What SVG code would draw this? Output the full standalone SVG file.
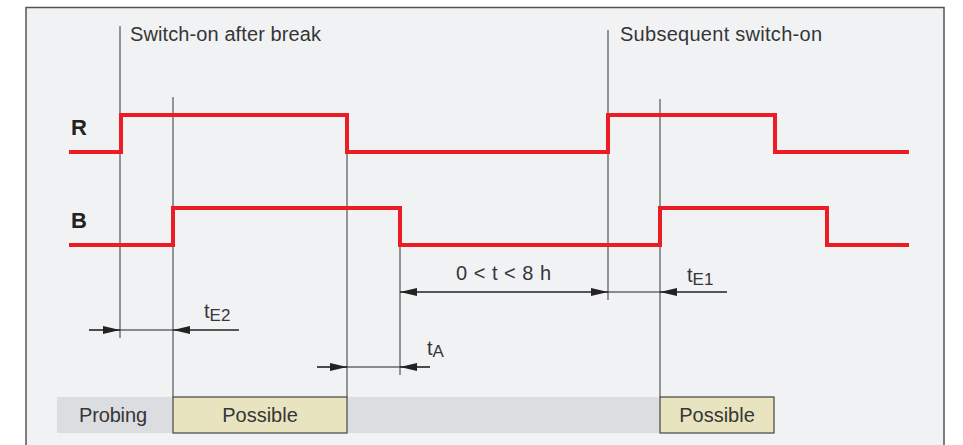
<svg xmlns="http://www.w3.org/2000/svg" width="963" height="445" viewBox="0 0 963 445">
<defs>
<style>
.txt{font-family:"Liberation Sans",Arial,sans-serif;fill:#363636;font-size:20px}
.lbl{font-family:"Liberation Sans",Arial,sans-serif;fill:#222;font-size:22px;font-weight:bold}
.sig{fill:none;stroke:#ec1c24;stroke-width:4;stroke-linejoin:miter}
.vl{stroke:#555;stroke-width:1.2;fill:none}
.dim{stroke:#222;stroke-width:1.2;fill:none}
.box{fill:#e8e4c0;stroke:#444;stroke-width:1.2}
</style>
<marker id="ah" viewBox="-17 -4 17 8" refX="0" refY="0" markerWidth="17" markerHeight="8" markerUnits="userSpaceOnUse" orient="auto">
<polygon points="0,0 -17,-4 -17,4" fill="#222"/>
</marker>
</defs>
<rect x="0" y="0" width="963" height="445" fill="#fff"/>
<rect id="frame" x="26" y="7.5" width="918" height="460" fill="#f1f2f4" stroke="#555" stroke-width="1.5"/>

<g id="bar">
<rect x="57" y="397" width="603" height="36" fill="#dcdde0"/>
<text class="txt" x="79" y="422" textLength="68">Probing</text>
</g>

<g id="markers">
<line class="vl" x1="120" y1="26" x2="120" y2="338"/>
<line class="vl" x1="173" y1="97" x2="173" y2="397"/>
<line class="vl" x1="347" y1="150" x2="347" y2="397"/>
<line class="vl" x1="400" y1="243" x2="400" y2="375"/>
<line class="vl" x1="608" y1="30" x2="608" y2="300"/>
<line class="vl" x1="660" y1="99" x2="660" y2="397"/>
</g>

<g id="possible1">
<rect class="box" x="173" y="397" width="174" height="36"/>
<text class="txt" x="260" y="422" text-anchor="middle">Possible</text>
</g>
<g id="possible2">
<rect class="box" x="660" y="397" width="114" height="36"/>
<text class="txt" x="717" y="422" text-anchor="middle">Possible</text>
</g>

<g id="signal-R">
<text class="lbl" x="71" y="135">R</text>
<path class="sig" d="M69,152 H121 V115 H347 V152 H608 V115 H775 V152 H909"/>
</g>
<g id="signal-B">
<text class="lbl" x="71" y="228">B</text>
<path class="sig" d="M69,245 H173 V208 H400 V245 H660 V208 H827 V245 H909"/>
</g>

<g id="labels">
<text class="txt" x="130" y="41" textLength="191">Switch-on after break</text>
<text class="txt" x="620" y="41" textLength="202">Subsequent switch-on</text>
<text class="txt" x="456" y="280" textLength="95">0 &lt; t &lt; 8 h</text>
<text class="txt" x="687" y="282">t<tspan font-size="17" dy="3">E1</tspan></text>
<text class="txt" x="204" y="318">t<tspan font-size="17" dy="3">E2</tspan></text>
<text class="txt" x="427" y="355">t<tspan font-size="17" dy="2">A</tspan></text>
</g>

<g id="connectors">
<line class="dim" x1="89" y1="330" x2="239" y2="330"/>
<path class="dim" d="M89,330 H120" marker-end="url(#ah)"/>
<path class="dim" d="M239,330 H173" marker-end="url(#ah)"/>
<line class="dim" x1="317" y1="367" x2="430" y2="367"/>
<path class="dim" d="M317,367 H347" marker-end="url(#ah)"/>
<path class="dim" d="M430,367 H400" marker-end="url(#ah)"/>
<line class="dim" x1="400" y1="292" x2="727" y2="292"/>
<path class="dim" d="M500,292 H400" marker-end="url(#ah)"/>
<path class="dim" d="M500,292 H608" marker-end="url(#ah)"/>
<path class="dim" d="M727,292 H660" marker-end="url(#ah)"/>
</g>
</svg>
